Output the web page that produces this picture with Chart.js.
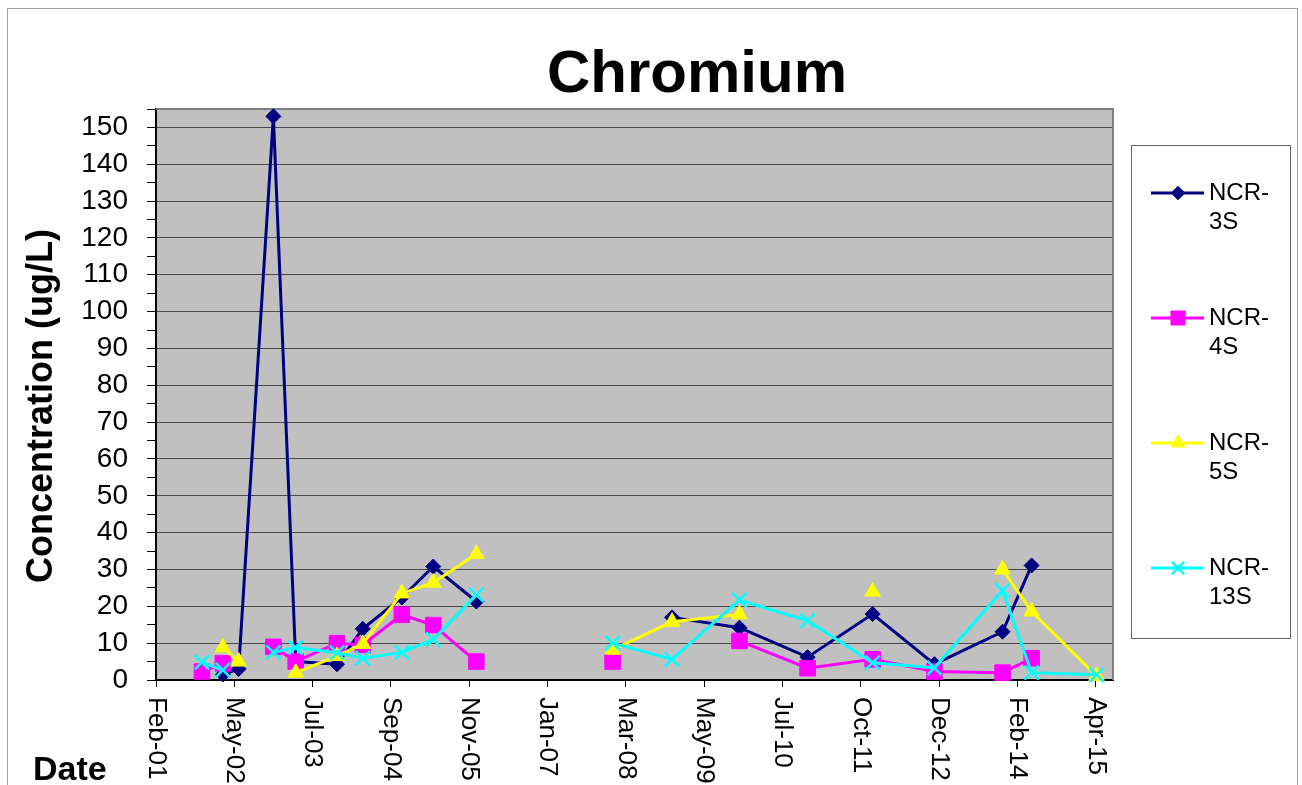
<!DOCTYPE html>
<html>
<head>
<meta charset="utf-8">
<title>Chromium</title>
<script src="https://cdn.jsdelivr.net/npm/chart.js@4/dist/chart.umd.min.js"></script>
<style>
  html, body { margin:0; padding:0; background:#fff; }
  canvas { display:block; }
</style>
</head>
<body>
<canvas id="chart" width="1302" height="785"></canvas>
<script>
// sample dates (one row per sampling round, blank row keeps the 2006-07 gap)
const sampleDates = [
  "2001-10-12","2002-02-04","2002-05-02","2002-11-09","2003-03-12",
  "2003-10-25","2004-03-15","2004-10-16","2005-04-07","2005-11-30",
  "2006-12-27","2007-12-20","2008-11-11","2009-11-17","2010-11-27",
  "2011-11-20","2012-10-25","2013-11-04","2014-04-13","2015-04-05"
];
const ncr3s  = [null, 1.5, 3.0, 153, 5.0, 4.3, 13.9, 22.4, 30.8, 21.3, null, null, 17.0, 14.2, 6.2, 17.9, 4.3, 13.1, 31.1, null];
const ncr4s  = [2.3, 4.5, null, 9.0, 5.0, 10.0, 9.5, 17.7, 14.9, 5.0, null, 5.0, null, 10.6, 3.2, 5.6, 2.3, 2.0, 5.9, null];
const ncr5s  = [null, 8.8, 5.0, null, 2.0, 6.5, 9.8, 23.5, 26.4, 34.2, null, 8.2, 15.8, 17.8, null, 24.0, null, 30.0, 18.6, 1.1];
const ncr13s = [4.8, 2.7, null, 7.5, 8.8, 7.4, 5.9, 7.5, 11.0, 23.1, null, 10.0, 5.6, 21.7, 16.1, 4.7, 3.3, 24.3, 2.0, 1.4];

const seriesNames = ["NCR-3S", "NCR-4S", "NCR-5S", "NCR-13S"];
const xTickLabels = ["Feb-01","May-02","Jul-03","Sep-04","Nov-05","Jan-07","Mar-08",
                     "May-09","Jul-10","Oct-11","Dec-12","Feb-14","Apr-15"];

const FONT = 'Arial, "Liberation Sans", sans-serif';
const DAY = 86400000;
const X0 = Date.UTC(2001, 1, 1);
const STEP = 431 * DAY;

function toPoints(vals) {
  return sampleDates.map((d, i) => ({ x: Date.parse(d), y: vals[i] }));
}

const styles = [
  { color: "#000080", pointStyle: "rectRot",  radius: 7.5, pbw: 1 },
  { color: "#FF00FF", pointStyle: "rect",     radius: 11,  pbw: 1 },
  { color: "#FFFF00", pointStyle: "triangle", radius: 9,   pbw: 1 },
  { color: "#00FFFF", pointStyle: "crossRot", radius: 10,  pbw: 2.5 }
];
const seriesValues = [ncr3s, ncr4s, ncr5s, ncr13s];

const datasets = seriesNames.map((name, i) => ({
  label: name,
  data: toPoints(seriesValues[i]),
  borderColor: styles[i].color,
  backgroundColor: styles[i].color,
  pointBackgroundColor: styles[i].color,
  pointBorderColor: styles[i].color,
  pointStyle: styles[i].pointStyle,
  pointRadius: styles[i].radius,
  pointHoverRadius: styles[i].radius,
  pointBorderWidth: styles[i].pbw,
  borderWidth: 3,
  tension: 0,
  spanGaps: false,
  clip: false,
  order: seriesNames.length - i
}));

// background, plot frame, titles, rotated date labels and legend
const decor = {
  id: "decor",
  beforeDraw(chart) {
    const { ctx, chartArea: a } = chart;
    ctx.save();
    ctx.fillStyle = "#fff";
    ctx.fillRect(0, 0, chart.width, chart.height);
    ctx.strokeStyle = "#a0a0a0";
    ctx.lineWidth = 1;
    ctx.strokeRect(7.5, 8.5, 1290, 800);
    ctx.fillStyle = "#C0C0C0";
    ctx.fillRect(a.left, a.top, a.right - a.left, a.bottom - a.top);
    ctx.restore();
  },
  beforeDatasetsDraw(chart) {
    const { ctx, chartArea: a } = chart;
    ctx.save();
    ctx.strokeStyle = "#808080";
    ctx.lineWidth = 2;
    ctx.beginPath();
    ctx.moveTo(a.left, a.top);
    ctx.lineTo(a.right, a.top);
    ctx.lineTo(a.right, a.bottom);
    ctx.stroke();
    ctx.restore();
  },
  afterDraw(chart) {
    const { ctx } = chart;
    const xs = chart.scales.x;
    ctx.save();
    ctx.fillStyle = "#000";

    // title
    ctx.font = "bold 60px " + FONT;
    ctx.textAlign = "center";
    ctx.textBaseline = "alphabetic";
    ctx.fillText("Chromium", 697, 92);

    // y axis title
    ctx.save();
    ctx.translate(42, 406);
    ctx.rotate(-Math.PI / 2);
    ctx.font = "bold 36px " + FONT;
    ctx.textBaseline = "middle";
    ctx.fillText("Concentration (ug/L)", 0, 0);
    ctx.restore();

    // x axis title
    ctx.font = "bold 34px " + FONT;
    ctx.textAlign = "left";
    ctx.fillText("Date", 33, 780);

    // date labels, reading downward
    ctx.font = "26px " + FONT;
    xs.ticks.forEach((t, i) => {
      const px = xs.getPixelForValue(t.value);
      ctx.save();
      ctx.translate(px, 697);
      ctx.rotate(Math.PI / 2);
      ctx.textAlign = "left";
      ctx.textBaseline = "middle";
      ctx.fillText(xTickLabels[i], 0, 0);
      ctx.restore();
    });

    // legend
    ctx.fillStyle = "#fff";
    ctx.fillRect(1132, 145, 159, 493);
    ctx.strokeStyle = "#666";
    ctx.lineWidth = 1;
    ctx.strokeRect(1131.5, 145.5, 159, 493);
    chart.data.datasets.forEach((ds, i) => {
      const y = 193 + 125 * i;
      ctx.strokeStyle = ds.borderColor;
      ctx.lineWidth = 3;
      ctx.beginPath();
      ctx.moveTo(1151, y);
      ctx.lineTo(1204, y);
      ctx.stroke();
      ctx.fillStyle = ds.pointBackgroundColor;
      ctx.strokeStyle = ds.pointBorderColor;
      ctx.lineWidth = ds.pointBorderWidth;
      Chart.helpers.drawPoint(ctx, {
        pointStyle: ds.pointStyle, radius: ds.pointRadius * 0.9,
        rotation: 0, borderWidth: ds.pointBorderWidth
      }, 1178, y);
      const parts = ds.label.split("-");
      ctx.fillStyle = "#000";
      ctx.font = "24px " + FONT;
      ctx.textAlign = "left";
      ctx.textBaseline = "middle";
      ctx.fillText(parts[0] + "-", 1209, y);
      ctx.fillText(parts[1], 1209, y + 29);
    });
    ctx.restore();
  }
};

new Chart(document.getElementById("chart"), {
  type: "line",
  data: { datasets },
  plugins: [decor],
  options: {
    responsive: false,
    animation: false,
    devicePixelRatio: 1,
    layout: { padding: { top: 109, right: 189, left: 0, bottom: 0 } },
    plugins: { legend: { display: false }, title: { display: false }, tooltip: { enabled: false } },
    scales: {
      x: {
        type: "linear",
        min: X0,
        max: X0 + 12.22 * STEP,
        afterBuildTicks: s => { s.ticks = xTickLabels.map((l, i) => ({ value: X0 + i * STEP })); },
        ticks: { display: false },
        grid: { drawOnChartArea: false, drawTicks: true, tickLength: 7, color: "#000", tickColor: "#000", lineWidth: 1 },
        border: { color: "#000", width: 2 },
        afterFit: s => { s.height = 105; }
      },
      y: {
        min: 0,
        max: 155,
        afterBuildTicks: s => {
          const t = [];
          for (let v = 0; v <= 155; v += 5) t.push({ value: v });
          s.ticks = t;
        },
        ticks: {
          autoSkip: false,
          padding: 19,
          color: "#000",
          font: { size: 28, family: FONT },
          callback: v => (v % 10 === 0 ? String(v) : "")
        },
        grid: {
          color: c => (c.tick && c.tick.value % 10 === 0 && c.tick.value > 0 && c.tick.value < 155) ? "#4a4a4a" : "rgba(0,0,0,0)",
          tickColor: "#000",
          tickLength: 9,
          lineWidth: 1
        },
        border: { color: "#000", width: 2 },
        afterFit: s => { s.width = 156; }
      }
    }
  }
});
</script>
</body>
</html>
